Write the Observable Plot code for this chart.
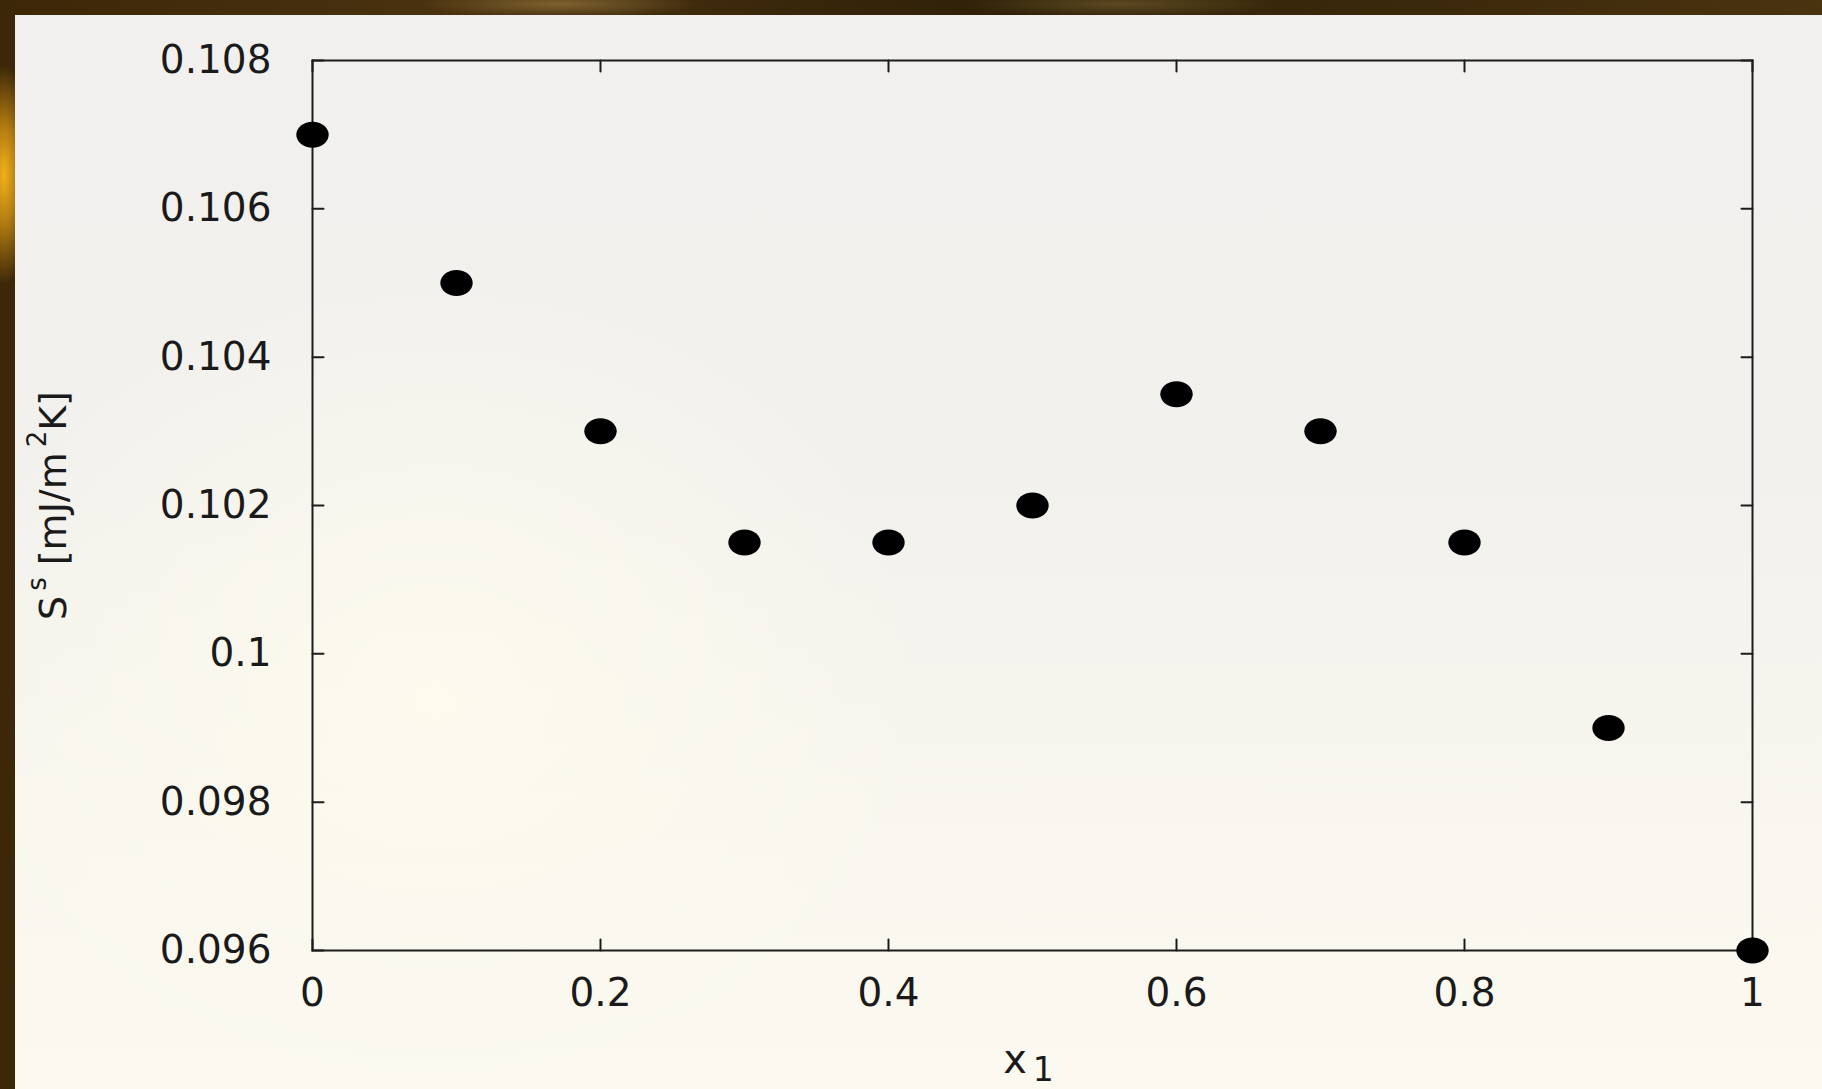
<!DOCTYPE html>
<html>
<head>
<meta charset="utf-8">
<script src="https://cdn.jsdelivr.net/npm/d3@7"></script>
<script src="https://cdn.jsdelivr.net/npm/@observablehq/plot@0.6"></script>
<style>
html, body { margin: 0; padding: 0; }
body {
  width: 1822px; height: 1089px; overflow: hidden; position: relative;
  background:
    radial-gradient(ellipse 30px 110px at 4px 175px, #f2b21c 0%, rgba(214,150,20,0.75) 45%, rgba(0,0,0,0) 100%),
    radial-gradient(ellipse 140px 14px at 560px 4px, rgba(150,120,60,0.7) 0%, rgba(0,0,0,0) 100%),
    radial-gradient(ellipse 160px 14px at 1120px 4px, rgba(120,100,50,0.6) 0%, rgba(0,0,0,0) 100%),
    linear-gradient(90deg, #3c2708 0%, #4a3210 25%, #2f2008 55%, #3d2a0c 80%, #4a330f 100%);
}
#panel {
  position: absolute; left: 15px; top: 15px; width: 1807px; height: 1074px;
  background:
    radial-gradient(ellipse 500px 420px at 420px 680px, rgba(255,252,238,0.8) 0%, rgba(255,252,238,0) 100%),
    linear-gradient(180deg, #f1f0ee 0%, #f2f1ed 45%, #f8f6ee 75%, #fbf9f0 100%);
}
#panel svg { position: absolute; left: 0; top: 0; }
</style>
</head>
<body>
<div id="panel"></div>
<script>
// ---- data ----
const xValues = [0, 0.1, 0.2, 0.3, 0.4, 0.5, 0.6, 0.7, 0.8, 0.9, 1.0];
const sValues = [0.107, 0.105, 0.103, 0.1015, 0.1015, 0.102, 0.1035, 0.103, 0.1015, 0.099, 0.096];
const xTicks = [0, 0.2, 0.4, 0.6, 0.8, 1];
const xTickLabels = ["0", "0.2", "0.4", "0.6", "0.8", "1"];
const yTicks = [0.096, 0.098, 0.1, 0.102, 0.104, 0.106, 0.108];
const yTickLabels = ["0.096", "0.098", "0.1", "0.102", "0.104", "0.106", "0.108"];
const xDomain = [0, 1];
const yDomain = [0.096, 0.108];
const yLabelParts = [
  {t: "S", pos: "base"}, {t: "s", pos: "sup"}, {t: " [mJ/m", pos: "base"},
  {t: "2", pos: "sup"}, {t: "K]", pos: "base"}
];
const xLabelParts = [{t: "x", pos: "base"}, {t: "1", pos: "sub"}];

const points = xValues.map((x, i) => ({x, s: sValues[i]}));

// ellipse-shaped point symbol (gnuplot-like filled point, slightly wide)
const ellipseSymbol = {
  draw(ctx, size) {
    const r = Math.sqrt(size / Math.PI);
    const rx = r * 1.2, ry = r * 0.96, k = 0.5523;
    ctx.moveTo(rx, 0);
    ctx.bezierCurveTo(rx, ry * k, rx * k, ry, 0, ry);
    ctx.bezierCurveTo(-rx * k, ry, -rx, ry * k, -rx, 0);
    ctx.bezierCurveTo(-rx, -ry * k, -rx * k, -ry, 0, -ry);
    ctx.bezierCurveTo(rx * k, -ry, rx, -ry * k, rx, 0);
    ctx.closePath();
  }
};
const tickShape = {draw(ctx, l) { ctx.moveTo(0, 0); ctx.lineTo(0, -l); }};
const tickLen = 11;
const axisColor = "#1c1c1c";

const chart = Plot.plot({
  width: 1807,
  height: 1074,
  marginLeft: 297,
  marginRight: 70,
  marginTop: 45,
  marginBottom: 139,
  style: {fontFamily: "'DejaVu Sans', sans-serif", fontSize: "39px", background: "transparent", overflow: "visible", color: "#1a1a1a"},
  x: {domain: xDomain},
  y: {domain: yDomain},
  marks: [
    Plot.axisX(xTicks, {tickSize: 0, tickPadding: 28, fontSize: 39, tickFormat: d => xTickLabels[xTicks.indexOf(d)], label: null}),
    Plot.axisY(yTicks, {tickSize: 0, tickPadding: 41, fontSize: 39, tickFormat: d => yTickLabels[yTicks.indexOf(d)], label: null}),
    // inward tick marks on all four sides
    Plot.vector(xTicks, {x: d => d, y: yDomain[0], length: tickLen, rotate: 0, anchor: "start", shape: tickShape, stroke: axisColor, strokeWidth: 2}),
    Plot.vector(xTicks, {x: d => d, y: yDomain[1], length: tickLen, rotate: 180, anchor: "start", shape: tickShape, stroke: axisColor, strokeWidth: 2}),
    Plot.vector(yTicks, {x: xDomain[0], y: d => d, length: tickLen, rotate: 90, anchor: "start", shape: tickShape, stroke: axisColor, strokeWidth: 2}),
    Plot.vector(yTicks, {x: xDomain[1], y: d => d, length: tickLen, rotate: -90, anchor: "start", shape: tickShape, stroke: axisColor, strokeWidth: 2}),
    Plot.frame({stroke: axisColor, strokeWidth: 2}),
    Plot.dot(points, {x: "x", y: "s", r: 13.5, symbol: ellipseSymbol, fill: "black", stroke: "none", clip: false}),
    Plot.text(["YLABEL"], {frameAnchor: "left", text: d => d, rotate: -90, dx: -247, textAnchor: "middle", lineAnchor: "bottom", fontSize: 38, fill: "#1a1a1a"}),
    Plot.text(["XLABEL"], {frameAnchor: "bottom", text: d => d, dx: -4, dy: 122, textAnchor: "middle", lineAnchor: "bottom", fontSize: 40, fill: "#1a1a1a"})
  ]
});

function richText(el, parts, baseSize, smallSize, supShift, subShift, gap) {
  const t = d3.select(el);
  t.text(null);
  let cur = 0;
  parts.forEach(p => {
    const target = p.pos === "sup" ? -supShift : p.pos === "sub" ? subShift : 0;
    const ts = t.append("tspan").text(p.t).attr("dy", target - cur);
    if (p.pos !== "base") ts.attr("font-size", smallSize).attr("dx", gap);
    cur = target;
  });
}
d3.select(chart).selectAll("text").each(function() {
  if (this.textContent === "YLABEL") richText(this, yLabelParts, 38, 26, 20, 0, 5);
  else if (this.textContent === "XLABEL") richText(this, xLabelParts, 40, 33, 0, 8, 6);
});

document.getElementById("panel").appendChild(chart);
</script>
</body>
</html>
